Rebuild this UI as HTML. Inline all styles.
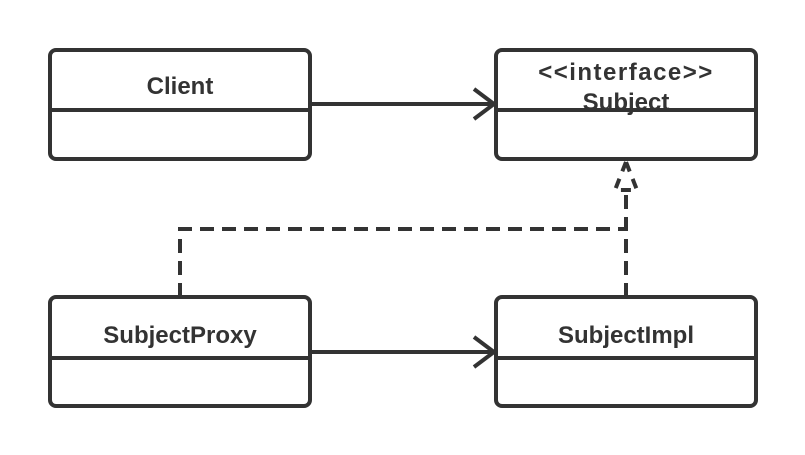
<!DOCTYPE html>
<html><head><style>body{margin:0;background:#fff}svg{display:block}</style></head><body>
<svg width="805" height="455" viewBox="0 0 805 455" xmlns="http://www.w3.org/2000/svg">
<g fill="#fff" stroke="#333" stroke-width="4">
<rect x="50" y="50" width="260" height="109" rx="6"/>
<line x1="50" y1="110" x2="310" y2="110"/>
<rect x="496" y="50" width="260" height="109" rx="6"/>
<line x1="496" y1="110" x2="756" y2="110"/>
<rect x="50" y="297" width="260" height="109" rx="6"/>
<line x1="50" y1="358" x2="310" y2="358"/>
<rect x="496" y="297" width="260" height="109" rx="6"/>
<line x1="496" y1="358" x2="756" y2="358"/>
</g>
<g fill="none" stroke="#333" stroke-width="4">
<line x1="310" y1="104" x2="494" y2="104"/>
<polyline points="474,89 494,104 474,119"/>
<line x1="310" y1="352" x2="494" y2="352"/>
<polyline points="474,337 494,352 474,367"/>
<g stroke-dasharray="14,8">
<polyline points="180,297 180,229 626,229"/>
<line x1="626" y1="297" x2="626" y2="190"/>
</g>
<polygon points="626,162 615,190 637,190" stroke-dasharray="10,8"/>
</g>
<g font-family="Liberation Sans, sans-serif" font-weight="bold" font-size="24" fill="#333" text-anchor="middle">
<text x="180" y="94">Client</text>
<text x="626" y="80" letter-spacing="1.5">&lt;&lt;interface&gt;&gt;</text>
<text x="626" y="110">Subject</text>
<text x="180" y="343">SubjectProxy</text>
<text x="626" y="343">SubjectImpl</text>
</g>
</svg>
</body></html>
